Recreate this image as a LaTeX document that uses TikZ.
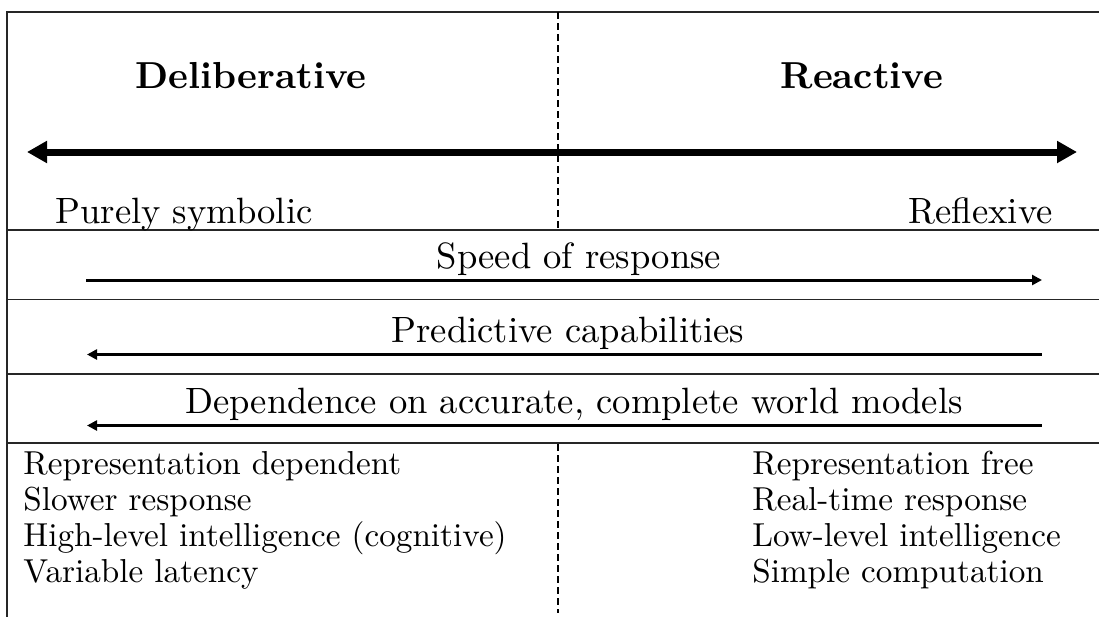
\documentclass[tikz,border=0pt]{standalone}
\usepackage{fontspec}
\setmainfont{lmroman10-regular}[Extension=.otf,BoldFont=lmroman10-bold]
\usetikzlibrary{arrows.meta}
\begin{document}
\begin{tikzpicture}[x=0.5pt,y=-0.5pt,
  frame/.style={draw=black!85,line width=0.7pt},
  divider/.style={draw=black,line width=1pt,dash pattern=on 3.5pt off 2pt},
  bigarrow/.style={line width=3.5pt,{Triangle[length=10pt,width=10.5pt]}-{Triangle[length=10pt,width=10.5pt]}},
  trend/.style={line width=1.5pt},
  title/.style={anchor=base,inner sep=0pt,font=\fontsize{18.8}{22}\selectfont\bfseries},
  label/.style={anchor=base,inner sep=0pt,font=\fontsize{18.3}{22}\selectfont},
  item/.style={anchor=base west,inner sep=0pt,font=\fontsize{16.6}{20}\selectfont}]
\useasboundingbox (0,0) rectangle (1099,617);
\fill[white] (0,0) rectangle (1099,617);

% frame: top edge, left edge and the row separators
\coordinate (tl) at (7,12);
\coordinate (tr) at (1099,12);
\coordinate (bl) at (7,617);
\draw[frame] (tr) -- (tl) -- (bl);
\foreach \y/\n in {230/r1,299.5/r2,374/r3,443/r4}{
  \coordinate (\n w) at (7,\y);
  \coordinate (\n e) at (1099,\y);
  \draw[frame] (\n w) -- (\n e);
}

% dashed centre divider
\coordinate (d1) at (557.5,12);
\coordinate (d2) at (557.5,229);
\coordinate (d3) at (557.5,444);
\coordinate (d4) at (557.5,613);
\draw[divider] (d1) -- (d2);
\draw[divider] (d3) -- (d4);

% headings and spectrum
\node[title] (delib) at (251,88) {Deliberative};
\node[title] (react) at (862,88) {Reactive};
\coordinate (sl) at (27,152);
\coordinate (sr) at (1077,152);
\draw[bigarrow] (sl) -- (sr);
\node[label,anchor=base west] (sym) at (55,223) {Purely symbolic};
\node[label,anchor=base east] (refl) at (1053,223) {Reflexive};

% trends along the spectrum
\node[label] (speed) at (579,268) {Speed of response};
\coordinate (a1) at (86,280);
\coordinate (b1) at (1042,280);
\draw[trend,-{Triangle[length=5pt,width=5pt]}] (a1) -- (b1);

\node[label] (pred) at (568,342.5) {Predictive capabilities};
\coordinate (a2) at (87,354.5);
\coordinate (b2) at (1042,354.5);
\draw[trend,{Triangle[length=5pt,width=5pt]}-] (a2) -- (b2);

\node[label] (dep) at (574,413.5) {Dependence on accurate, complete world models};
\coordinate (a3) at (87,425.5);
\coordinate (b3) at (1042,425.5);
\draw[trend,{Triangle[length=5pt,width=5pt]}-] (a3) -- (b3);

% properties of each side
\node[item] (l1) at (23,474) {Representation dependent};
\node[item] (l2) at (23,510) {Slower response};
\node[item] (l3) at (23,546) {High-level intelligence (cognitive)};
\node[item] (l4) at (23,582) {Variable latency};
\node[item] (r1) at (752,474) {Representation free};
\node[item] (r2) at (752,510) {Real-time response};
\node[item] (r3) at (752,546) {Low-level intelligence};
\node[item] (r4) at (752,582) {Simple computation};
\end{tikzpicture}
\end{document}
